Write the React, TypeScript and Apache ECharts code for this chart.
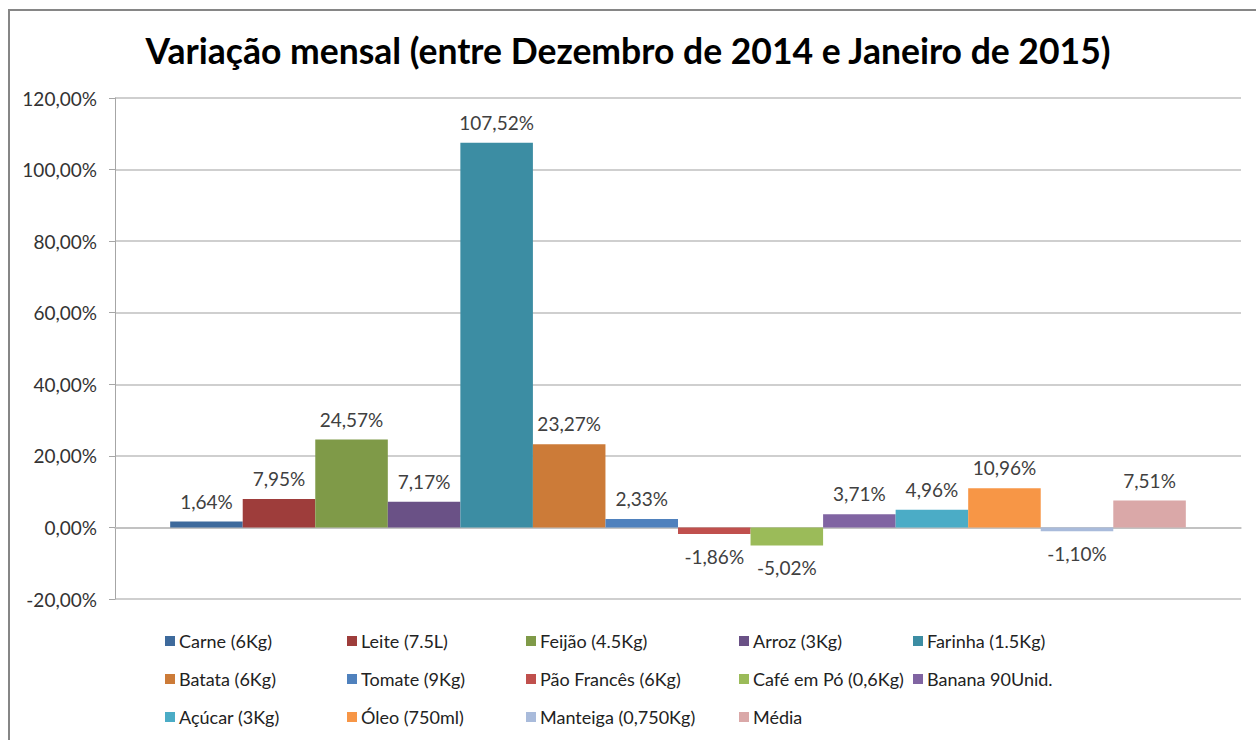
import React, { useEffect, useRef } from "react";
import * as echarts from "echarts";

const chartTitle = "Variação mensal (entre Dezembro de 2014 e Janeiro de 2015)";
const categories = [""];
const seriesNames = [
  "Carne (6Kg)",
  "Leite (7.5L)",
  "Feijão (4.5Kg)",
  "Arroz (3Kg)",
  "Farinha (1.5Kg)",
  "Batata (6Kg)",
  "Tomate (9Kg)",
  "Pão Francês (6Kg)",
  "Café em Pó (0,6Kg)",
  "Banana 90Unid.",
  "Açúcar (3Kg)",
  "Óleo (750ml)",
  "Manteiga (0,750Kg)",
  "Média",
];
const seriesValues = [1.64, 7.95, 24.57, 7.17, 107.52, 23.27, 2.33, -1.86, -5.02, 3.71, 4.96, 10.96, -1.1, 7.51];
const seriesColors = [
  "#3E6A9C",
  "#9E3D3B",
  "#7F9A48",
  "#6A5186",
  "#3C8DA3",
  "#CC7B38",
  "#4F81BD",
  "#C0504D",
  "#9BBB59",
  "#8064A2",
  "#4BACC6",
  "#F79646",
  "#A9BBDB",
  "#DAA8A8",
];
const yMin = -20;
const yMax = 120;
const yStep = 20;
const legendColumns = [
  [0, 5, 10],
  [1, 6, 11],
  [2, 7, 12],
  [3, 8, 13],
  [4, 9],
];
const legendColumnX = [160, 342, 521, 734, 908];

const FONT = "Lato, 'Noto Sans', sans-serif";
const fmt = (v: number) => v.toFixed(2).replace(".", ",") + "%";

export default function App() {
  const ref = useRef<HTMLDivElement>(null);
  useEffect(() => {
    if (!ref.current) return;
    const chart = echarts.init(ref.current, undefined, { renderer: "svg" });
    const series = seriesNames.map((name, i) => {
      const v = seriesValues[i];
      return {
        name,
        type: "bar",
        data: [v],
        barGap: "0%",
        barCategoryGap: "9.8%",
        itemStyle: { color: seriesColors[i] },
        label: {
          show: true,
          position: v >= 0 ? "top" : "bottom",
          distance: v >= 0 ? 11 : 13,
          formatter: () => fmt(v),
          color: "#404040",
          fontFamily: FONT,
          fontSize: 19,
        },
      };
    });
    const legends = legendColumns.map((col, ci) => ({
      orient: "vertical",
      left: legendColumnX[ci],
      top: 626,
      itemWidth: 10,
      itemHeight: 10,
      itemGap: 18,
      icon: "rect",
      selectedMode: false,
      data: col.map((i) => seriesNames[i]),
      textStyle: { fontFamily: FONT, fontSize: 18, color: "#222", lineHeight: 20, padding: [0, 0, 0, -1] },
    }));
    chart.setOption({
      animation: false,
      backgroundColor: "#fff",
      title: {
        text: chartTitle,
        left: "center",
        top: 27,
        textStyle: { fontFamily: FONT, fontSize: 35.5, fontWeight: "bold", color: "#000" },
      },
      graphic: [
        {
          type: "rect",
          shape: { x: 9, y: 10, width: 1260, height: 760 },
          style: { fill: "none", stroke: "#868686", lineWidth: 2 },
          silent: true,
          z: 100,
        },
      ],
      legend: legends,
      grid: { left: 115, right: 15, top: 98, bottom: 141, containLabel: false },
      xAxis: {
        type: "category",
        data: categories,
        axisLine: { show: true, lineStyle: { color: "#BFBFBF", width: 1.5 } },
        axisTick: { show: false },
        axisLabel: { show: false },
      },
      yAxis: {
        type: "value",
        min: yMin,
        max: yMax,
        interval: yStep,
        axisLine: { show: true, lineStyle: { color: "#A6A6A6", width: 1 } },
        axisTick: { show: true, length: 6, lineStyle: { color: "#A6A6A6" } },
        splitLine: { show: true, lineStyle: { color: "#BFBFBF", width: 1.5 } },
        axisLabel: {
          formatter: (v: number) => fmt(v),
          fontFamily: FONT,
          fontSize: 19,
          color: "#333",
          margin: 18,
        },
      },
      series,
    });
    return () => chart.dispose();
  }, []);
  return (
    <div
      ref={ref}
      style={{ position: "fixed", left: 0, top: 0, width: 1256, height: 740 }}
    />
  );
}
